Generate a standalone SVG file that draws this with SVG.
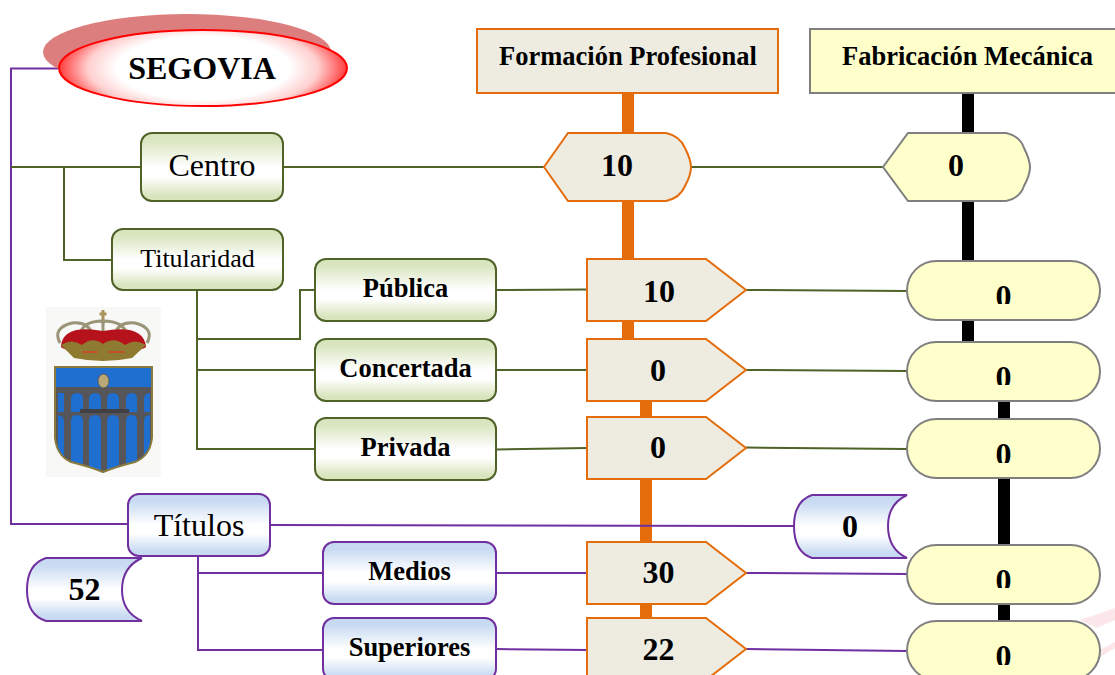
<svg xmlns="http://www.w3.org/2000/svg" width="1115" height="675" viewBox="0 0 1115 675">
<style>
text{font-family:"Liberation Serif","Times New Roman",serif;fill:#000;text-anchor:middle}
.b{font-weight:bold}
.f32{font-size:32px}.f26{font-size:26.5px}.f33{font-size:32px;font-weight:bold}
.g{fill:url(#gGreen);stroke:#4F6228;stroke-width:2}
.bl{fill:url(#gBlue);stroke:#7030A0;stroke-width:2}
.o{fill:#EEECE1;stroke:#E46C0A;stroke-width:2}
.y{fill:#FFFFCC;stroke:#7F7F7F;stroke-width:2}
.cg{fill:none;stroke:#4F6228;stroke-width:2}
.cp{fill:none;stroke:#7030A0;stroke-width:2}
</style>
<defs>
<linearGradient id="gGreen" x1="0" y1="0" x2="0" y2="1"><stop offset="0" stop-color="#D7E4BC"/><stop offset=".12" stop-color="#DAE6C1"/><stop offset=".5" stop-color="#fff"/><stop offset=".64" stop-color="#fff"/><stop offset=".92" stop-color="#D9E5BF"/><stop offset="1" stop-color="#D7E4BC"/></linearGradient>
<linearGradient id="gBlue" x1="0" y1="0" x2="0" y2="1"><stop offset="0" stop-color="#C6D9F1"/><stop offset=".12" stop-color="#C9DBF2"/><stop offset=".5" stop-color="#fff"/><stop offset=".64" stop-color="#fff"/><stop offset=".92" stop-color="#C9DBF2"/><stop offset="1" stop-color="#C6D9F1"/></linearGradient>
<radialGradient id="gRed" cx=".5" cy=".5" r=".5" gradientTransform="translate(.5 .5) scale(1 1.4) translate(-.5 -.5)"><stop offset="0" stop-color="#fff"/><stop offset=".6" stop-color="#fff"/><stop offset=".8" stop-color="#FFCFCF"/><stop offset="1" stop-color="#FF3C3C"/></radialGradient>
<clipPath id="c1"><rect x="900" y="261" width="215" height="43"/></clipPath>
<clipPath id="c2"><rect x="900" y="342" width="215" height="43"/></clipPath>
<clipPath id="c3"><rect x="900" y="419" width="215" height="44"/></clipPath>
<clipPath id="c4"><rect x="900" y="545" width="215" height="43"/></clipPath>
<clipPath id="c5"><rect x="900" y="621" width="215" height="44"/></clipPath>
<clipPath id="shield"><path d="M55,367H152V438Q150,456 135,462Q115,467 103,472Q91,467 71,462Q57,456 55,438Z"/></clipPath>
</defs>
<rect width="1115" height="675" fill="#fff"/>
<g id="watermark" fill="#FBE6EA">
<polygon points="1080,620 1115,608 1115,620 1097,628"/>
<polygon points="1100,650 1115,642 1115,648 1100,657"/>
</g>
<g id="bars">
<rect x="622" y="93" width="12" height="247" fill="#E46C0A"/>
<rect x="640" y="400" width="12" height="220" fill="#E46C0A"/>
<rect x="962" y="93" width="12" height="250" fill="#000"/>
<rect x="998" y="400" width="12" height="225" fill="#000"/>
</g>
<g id="connectors">
<path class="cp" d="M58,68.500H11V524H128"/>
<path class="cg" d="M11,167H141M64,167V260H112M283,167H544M691,167H883"/>
<path class="cg" d="M197,290V449H315M197,339H300V290H315M197,370H315"/>
<path class="cg" d="M496,290L587,289.500M746,290L907,291M496,370H587M746,370L907,371M496,449.500L587,448M746,447.500L907,449"/>
<path class="cp" d="M270,525L794,526M198,556V650H323M198,573H323"/>
<path class="cp" d="M496,573H587M746,573L907,574M496,649L587,650M746,649L907,651"/>
</g>
<g id="segovia">
<ellipse cx="187" cy="52" rx="144" ry="38" fill="#DC7E7E"/>
<ellipse cx="203" cy="68" rx="144" ry="38" fill="url(#gRed)" stroke="#FF0000" stroke-width="2"/>
<text class="b f32" x="202" y="79">SEGOVIA</text>
</g>
<g id="formacion"><rect class="o" x="477" y="29" width="301" height="64"/><text class="b f26" x="628" y="65">Formación Profesional</text></g>
<g id="fabricacion"><rect class="y" x="810" y="29" width="310" height="64"/><text class="b f26" x="967.500" y="65">Fabricación Mecánica</text></g>
<g id="centro"><rect class="g" x="141" y="133" width="142" height="68" rx="11"/><text class="f32" x="212" y="176">Centro</text></g>
<g id="centro-fp"><path class="o" d="M544,167L568,133H666Q680,136 685,148Q691,160 691,167Q691,175 685,186Q680,198 666,201H568Z"/><text class="f33" x="617" y="176">10</text></g>
<g id="centro-fm"><path class="y" d="M883,167L908,133H1006Q1020,136 1024,148Q1030,160 1030,167Q1030,175 1024,186Q1020,198 1006,201H908Z"/><text class="f33" x="956" y="176">0</text></g>
<g id="titularidad"><rect class="g" x="112" y="229" width="171" height="61" rx="11"/><text x="197.500" y="267" font-size="26">Titularidad</text></g>
<g id="publica"><rect class="g" x="315" y="259" width="181" height="62" rx="11"/><text class="b f26" x="405.500" y="297">Pública</text></g>
<g id="concertada"><rect class="g" x="315" y="339" width="181" height="62" rx="11"/><text class="b f26" x="405.500" y="377">Concertada</text></g>
<g id="privada"><rect class="g" x="315" y="418" width="181" height="62" rx="11"/><text class="b f26" x="405.500" y="456">Privada</text></g>
<g id="publica-fp"><path class="o" d="M587,259H706L746,290L706,321H587Z"/><text class="f33" x="659" y="302">10</text></g>
<g id="concertada-fp"><path class="o" d="M587,339H706L746,370L706,401H587Z"/><text class="f33" x="658" y="381">0</text></g>
<g id="privada-fp"><path class="o" d="M587,417H706L746,448L706,479H587Z"/><text class="f33" x="658" y="458">0</text></g>
<g id="publica-fm"><rect class="y" x="907" y="261" width="193" height="59" rx="29.500"/><text class="f33" x="1003.500" y="307" clip-path="url(#c1)">0</text></g>
<g id="concertada-fm"><rect class="y" x="907" y="342" width="193" height="59" rx="29.500"/><text class="f33" x="1003.500" y="388" clip-path="url(#c2)">0</text></g>
<g id="privada-fm"><rect class="y" x="907" y="419" width="193" height="59" rx="29.500"/><text class="f33" x="1003.500" y="465" clip-path="url(#c3)">0</text></g>
<g id="crest">
<rect x="46" y="307" width="115" height="170" fill="#F8F8F6"/>
<path d="M103,310V324M99.500,314H106.500" stroke="#A8935A" stroke-width="3" fill="none"/>
<path d="M60,343Q52,328 72,323Q88,321 93,335M147,343Q155,328 135,323Q119,321 114,335M80,335Q82,321 103,321Q124,321 127,335M103,322V338" fill="none" stroke="#9A9478" stroke-width="3"/>
<path d="M61,347Q62,324 103,331Q144,324 146,347Q140,352 103,353Q66,352 61,347Z" fill="#B5121B"/>
<path d="M61,345Q72,338 82,345Q92,336 103,344Q114,336 125,345Q135,338 146,345L132,358Q103,364 74,358Z" fill="#8F7A32"/>
<path d="M82,352H98M108,352H125" stroke="#C0512A" stroke-width="2"/>
<g clip-path="url(#shield)">
<rect x="54" y="366" width="98" height="106" fill="#1E6FD0"/>
<rect x="54" y="387" width="98" height="85" fill="#55555A"/>
<path d="M71,412V399Q71,393 77,393Q83,393 83,399V412ZM89,412V399Q89,393 95,393Q101,393 101,399V412ZM107,412V399Q107,393 113,393Q119,393 119,399V412ZM126,412V399Q126,393 132,393Q137,393 137,399V412ZM144,412V399Q144,393 150,393V412ZM58,412V393H64V412ZM71,472V421Q71,415 77,415Q83,415 83,421V472ZM89,472V421Q89,415 95,415Q101,415 101,421V472ZM107,472V421Q107,415 113,415Q119,415 119,421V472ZM126,472V421Q126,415 132,415Q137,415 137,421V472ZM144,472V421Q144,415 150,415V472ZM58,472V415Q64,416 64,421V472Z" fill="#1E6FD0"/>
<rect x="80" y="409" width="49" height="4" fill="#3F3F44"/>
</g>
<path d="M55,367H152V438Q150,456 135,462Q115,467 103,472Q91,467 71,462Q57,456 55,438Z" fill="none" stroke="#8A7A3E" stroke-width="2"/>
<ellipse cx="103.500" cy="381" rx="5.500" ry="7" fill="#B9A777" stroke="#5A5A50"/>
</g>
<g id="titulos"><rect class="bl" x="128" y="494" width="142" height="62" rx="11"/><text class="f32" x="199" y="536">Títulos</text></g>
<g id="titulos-total"><path class="bl" d="M142,558H46Q27,564 27,590Q27,615 46,621H142Q122,612 122,590Q122,567 142,558Z"/><text class="f33" x="84.500" y="600">52</text></g>
<g id="titulos-fm"><path class="bl" d="M907,495H812Q794,501 794,526Q794,552 812,558H907Q888,549 888,526Q888,504 907,495Z"/><text class="f33" x="850" y="537">0</text></g>
<g id="medios"><rect class="bl" x="323" y="542" width="173" height="62" rx="11"/><text class="b f26" x="409.500" y="580">Medios</text></g>
<g id="superiores"><rect class="bl" x="323" y="618" width="173" height="62" rx="11"/><text class="b f26" x="409.500" y="656">Superiores</text></g>
<g id="medios-fp"><path class="o" d="M587,542H706L746,573L706,604H587Z"/><text class="f33" x="658.500" y="583">30</text></g>
<g id="superiores-fp"><path class="o" d="M587,618H706L746,649L706,680H587Z"/><text class="f33" x="658.500" y="660">22</text></g>
<g id="medios-fm"><rect class="y" x="907" y="545" width="193" height="59" rx="29.500"/><text class="f33" x="1003.500" y="591" clip-path="url(#c4)">0</text></g>
<g id="superiores-fm"><rect class="y" x="907" y="621" width="193" height="59" rx="29.500"/><text class="f33" x="1003.500" y="667" clip-path="url(#c5)">0</text></g>
</svg>
